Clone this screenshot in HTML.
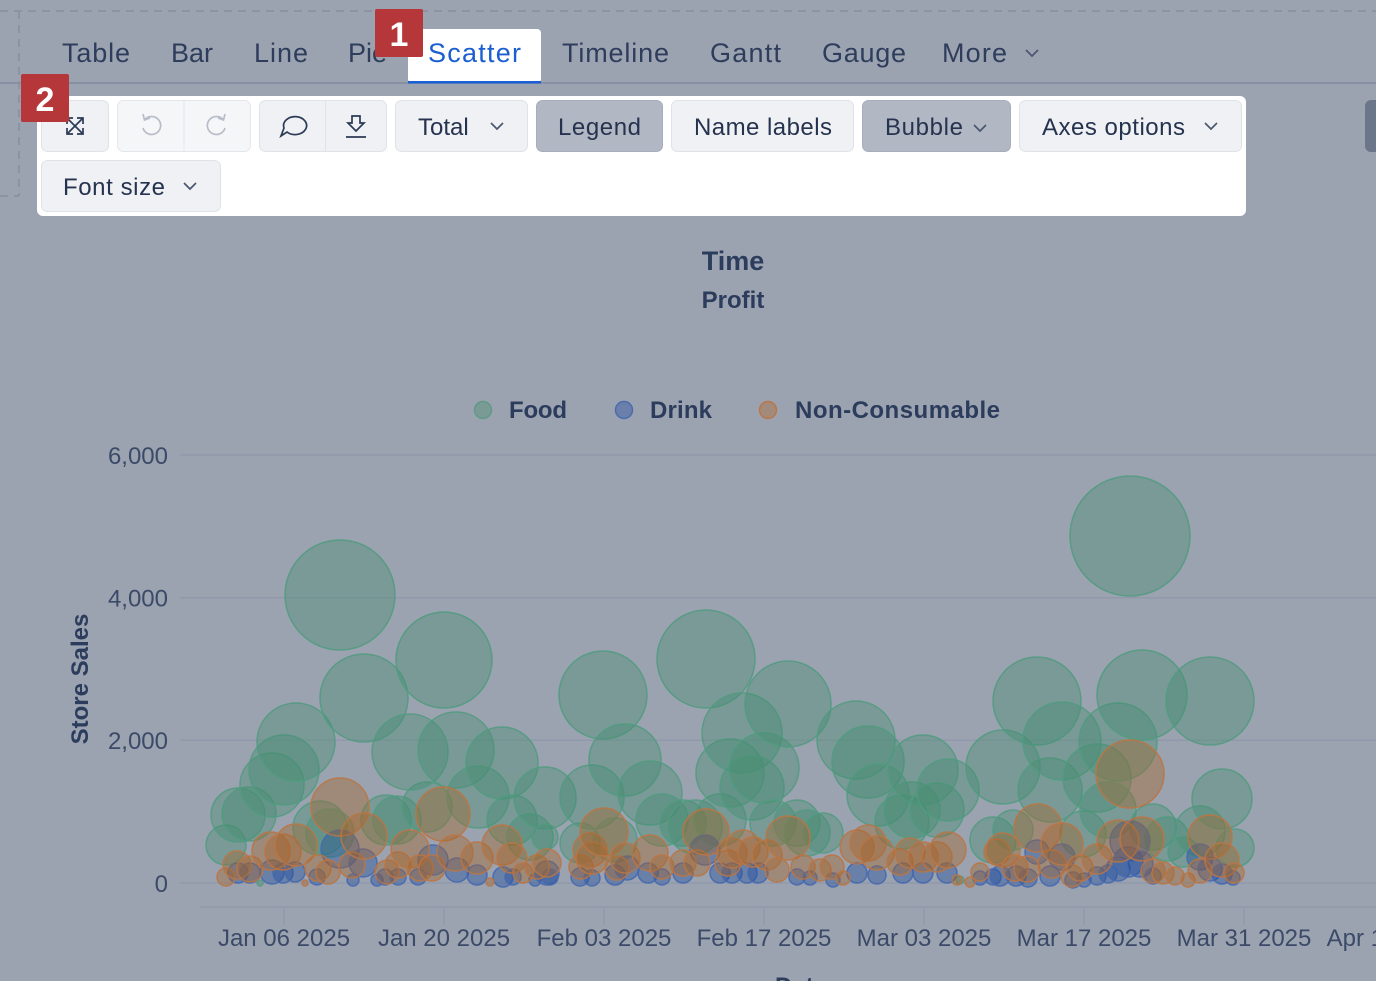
<!DOCTYPE html>
<html><head><meta charset="utf-8"><style>
html,body{margin:0;padding:0;background:#9ca3b0;}
svg{display:block;font-family:"Liberation Sans",Arial,sans-serif;}
.g circle{fill:rgba(71,140,112,0.4);stroke:rgba(80,155,128,0.85);stroke-width:1.5}
.b circle{fill:rgba(31,76,157,0.4);stroke:rgba(70,105,175,0.9);stroke-width:1.5}
.o circle{fill:rgba(166,100,42,0.4);stroke:rgba(185,118,70,0.9);stroke-width:1.5}
.tab{font-size:27px;fill:#2e3d5c}
.btn{font-size:24px;fill:#26334f}
.tick{font-size:24px;fill:#3b4a68}
.chev{fill:none;stroke:#4a5670;stroke-width:1.7}
</style></head><body>
<svg width="1376" height="981" viewBox="0 0 1376 981" xmlns="http://www.w3.org/2000/svg">
<rect width="1376" height="981" fill="#9ca3b0"/>
<line x1="0" y1="11" x2="1376" y2="11" stroke="#87909f" stroke-width="1.5" stroke-dasharray="8,6"/>
<line x1="19" y1="11" x2="19" y2="196" stroke="#87909f" stroke-width="1.5" stroke-dasharray="8,6"/>
<line x1="0" y1="196" x2="19" y2="196" stroke="#87909f" stroke-width="1.5" stroke-dasharray="8,6"/>

<line x1="0" y1="83" x2="1376" y2="83" stroke="#8891a3" stroke-width="2"/>
<text class="tab" x="62" y="62" textLength="68">Table</text>
<text class="tab" x="171" y="62" textLength="42">Bar</text>
<text class="tab" x="254" y="62" textLength="54">Line</text>
<text class="tab" x="348" y="62">Pie</text>
<rect x="408" y="29" width="133" height="54" rx="4" fill="#ffffff"/>
<rect x="408" y="81" width="133" height="2.5" fill="#1a5fd6"/>
<text class="tab" x="428" y="62" style="fill:#1a5ed0" textLength="93">Scatter</text>
<text class="tab" x="562" y="62" textLength="107">Timeline</text>
<text class="tab" x="710" y="62" textLength="71">Gantt</text>
<text class="tab" x="822" y="62" textLength="84">Gauge</text>
<text class="tab" x="942" y="62" textLength="65">More</text>
<polyline class="chev" points="1026,50 1032,56 1038,50"/>

<rect x="37" y="96" width="1209" height="120" rx="6" fill="#ffffff"/>
<rect x="41.5" y="100.5" width="67" height="51" rx="6" fill="#eff1f4" stroke="#dfe3e8"/>
<g fill="none" stroke="#2b3a55" stroke-width="1.7">
<line x1="67" y1="118" x2="83" y2="134"/><line x1="83" y1="118" x2="67" y2="134"/>
<polyline points="67,124 67,118 73,118"/><polyline points="77,118 83,118 83,124"/>
<polyline points="67,128 67,134 73,134"/><polyline points="77,134 83,134 83,128"/>
</g>
<rect x="117.5" y="100.5" width="133" height="51" rx="6" fill="#f5f6f8" stroke="#e3e6eb"/>
<line x1="184" y1="101" x2="184" y2="151" stroke="#e3e6eb"/>
<g fill="none" stroke="#b7bec9" stroke-width="1.7">
<path d="M144.5 120 A9 9 0 1 1 143 128"/><polyline points="143,114 144.5,120 150,118"/>
<path d="M223.5 120 A9 9 0 1 0 225 128"/><polyline points="225,114 223.5,120 218,118"/>
</g>
<rect x="259.5" y="100.5" width="127" height="51" rx="6" fill="#eff1f4" stroke="#dfe3e8"/>
<line x1="325.5" y1="101" x2="325.5" y2="151" stroke="#dfe3e8"/>
<g fill="none" stroke="#2b3a55" stroke-width="1.7">
<path d="M287 132 A11.5 9 0 1 0 284 128 L281 136 Z"/>
<path d="M352 116 h8 v7 h4 l-8 8 l-8 -8 h4 z"/>
<line x1="346" y1="137" x2="366" y2="137"/>
</g>
<rect x="395.5" y="100.5" width="132" height="51" rx="6" fill="#eff1f4" stroke="#dfe3e8"/>
<text class="btn" x="418" y="135">Total</text>
<polyline class="chev" points="491,123 497,129 503,123"/>
<rect x="536.5" y="100.5" width="126" height="51" rx="6" fill="#b1b7c3" stroke="#a7aebb"/>
<text class="btn" x="558" y="135" textLength="83">Legend</text>
<rect x="671.5" y="100.5" width="182" height="51" rx="6" fill="#eff1f4" stroke="#dfe3e8"/>
<text class="btn" x="694" y="135" textLength="138">Name labels</text>
<rect x="862.5" y="100.5" width="148" height="51" rx="6" fill="#b1b7c3" stroke="#a7aebb"/>
<text class="btn" x="885" y="135" textLength="78">Bubble</text>
<polyline class="chev" points="974,125 980,131 986,125"/>
<rect x="1019.5" y="100.5" width="222" height="51" rx="6" fill="#eff1f4" stroke="#dfe3e8"/>
<text class="btn" x="1042" y="135" textLength="143">Axes options</text>
<polyline class="chev" points="1205,123 1211,129 1217,123"/>
<rect x="41.5" y="160.5" width="179" height="51" rx="6" fill="#eff1f4" stroke="#dfe3e8"/>
<text class="btn" x="63" y="195" textLength="102">Font size</text>
<polyline class="chev" points="184,183 190,189 196,183"/>
<rect x="1365" y="100" width="30" height="52" rx="6" fill="#6c768a"/>

<rect x="375" y="9" width="48" height="48" rx="2" fill="#b5373a"/>
<text x="399" y="46" text-anchor="middle" font-size="34" font-weight="bold" fill="#ffffff">1</text>
<rect x="21" y="74" width="48" height="48" rx="2" fill="#b5373a"/>
<text x="45" y="111" text-anchor="middle" font-size="34" font-weight="bold" fill="#ffffff">2</text>

<text x="733" y="270" text-anchor="middle" font-size="27" font-weight="bold" fill="#2c3c5c">Time</text>
<text x="733" y="308" text-anchor="middle" font-size="24" font-weight="bold" fill="#2c3c5c">Profit</text>

<circle cx="483" cy="410" r="8.5" fill="#7a9a96" stroke="#5e9a86" stroke-width="1.5"/>
<text x="509" y="418" font-size="24" font-weight="bold" fill="#2c3c5c" textLength="58">Food</text>
<circle cx="624" cy="410" r="8.5" fill="#6a80aa" stroke="#4a6cae" stroke-width="1.5"/>
<text x="650" y="418" font-size="24" font-weight="bold" fill="#2c3c5c" textLength="62">Drink</text>
<circle cx="768" cy="410" r="8.5" fill="#a48a7a" stroke="#b9774a" stroke-width="1.5"/>
<text x="795" y="418" font-size="24" font-weight="bold" fill="#2c3c5c" textLength="205">Non-Consumable</text>

<g stroke="#8f99ab" stroke-width="1.5">
<line x1="180" y1="455" x2="1376" y2="455"/>
<line x1="180" y1="597.7" x2="1376" y2="597.7"/>
<line x1="180" y1="740.3" x2="1376" y2="740.3"/>
<line x1="180" y1="883" x2="1376" y2="883"/>
<line x1="200" y1="907" x2="1376" y2="907"/>
<line x1="284" y1="907" x2="284" y2="925"/>
<line x1="444" y1="907" x2="444" y2="925"/>
<line x1="604" y1="907" x2="604" y2="925"/>
<line x1="764" y1="907" x2="764" y2="925"/>
<line x1="924" y1="907" x2="924" y2="925"/>
<line x1="1084" y1="907" x2="1084" y2="925"/>
<line x1="1244" y1="907" x2="1244" y2="925"/>
</g>
<g text-anchor="end">
<text class="tick" x="168" y="464">6,000</text>
<text class="tick" x="168" y="606.5">4,000</text>
<text class="tick" x="168" y="749">2,000</text>
<text class="tick" x="168" y="892">0</text>
</g>
<g text-anchor="middle">
<text class="tick" x="284" y="946">Jan 06 2025</text>
<text class="tick" x="444" y="946">Jan 20 2025</text>
<text class="tick" x="604" y="946">Feb 03 2025</text>
<text class="tick" x="764" y="946">Feb 17 2025</text>
<text class="tick" x="924" y="946">Mar 03 2025</text>
<text class="tick" x="1084" y="946">Mar 17 2025</text>
<text class="tick" x="1244" y="946">Mar 31 2025</text>
<text class="tick" x="1392" y="946">Apr 14 2025</text>
</g>
<text x="88" y="679" transform="rotate(-90 88 679)" text-anchor="middle" font-size="24" font-weight="bold" fill="#2c3c5c">Store Sales</text>
<text x="801" y="994" text-anchor="middle" font-size="24" font-weight="bold" fill="#2c3c5c">Date</text>

<g class="g">
<circle cx="226" cy="845" r="20"/><circle cx="238" cy="815" r="27"/><circle cx="249" cy="814" r="27"/>
<circle cx="272" cy="785" r="32"/><circle cx="284" cy="770" r="35"/><circle cx="296" cy="742" r="39"/>
<circle cx="340" cy="595" r="55"/><circle cx="364" cy="698" r="44"/><circle cx="320" cy="828" r="27"/>
<circle cx="330" cy="833" r="24"/><circle cx="386" cy="820" r="25"/><circle cx="397" cy="820" r="24"/>
<circle cx="427" cy="807" r="25"/><circle cx="410" cy="752" r="38"/><circle cx="444" cy="660" r="48"/>
<circle cx="456" cy="750" r="38"/><circle cx="478" cy="797" r="31"/><circle cx="502" cy="763" r="36"/>
<circle cx="512" cy="820" r="25"/><circle cx="530" cy="837" r="23"/><circle cx="545" cy="798" r="31"/>
<circle cx="545" cy="837" r="13"/><circle cx="580" cy="843" r="20"/><circle cx="592" cy="797" r="32"/>
<circle cx="603" cy="695" r="44"/><circle cx="615" cy="840" r="22"/><circle cx="625" cy="760" r="36"/>
<circle cx="650" cy="793" r="32"/><circle cx="662" cy="820" r="26"/><circle cx="683" cy="823" r="23"/>
<circle cx="695" cy="827" r="27"/><circle cx="706" cy="659" r="49"/><circle cx="720" cy="820" r="26"/>
<circle cx="730" cy="773" r="34"/><circle cx="742" cy="733" r="40"/><circle cx="752" cy="788" r="32"/>
<circle cx="764" cy="768" r="35"/><circle cx="773" cy="823" r="23"/><circle cx="788" cy="704" r="43"/>
<circle cx="797" cy="823" r="23"/><circle cx="807" cy="833" r="23"/><circle cx="823" cy="833" r="20"/>
<circle cx="856" cy="740" r="39"/><circle cx="868" cy="762" r="36"/><circle cx="878" cy="795" r="31"/>
<circle cx="902" cy="822" r="27"/><circle cx="912" cy="810" r="28"/><circle cx="923" cy="770" r="35"/>
<circle cx="937" cy="810" r="27"/><circle cx="948" cy="790" r="31"/><circle cx="993" cy="840" r="23"/>
<circle cx="1003" cy="767" r="37"/><circle cx="1013" cy="830" r="20"/><circle cx="1037" cy="701" r="44"/>
<circle cx="1050" cy="790" r="32"/><circle cx="1062" cy="741" r="39"/><circle cx="1083" cy="834" r="23"/>
<circle cx="1097" cy="778" r="34"/><circle cx="1108" cy="810" r="28"/><circle cx="1118" cy="742" r="39"/>
<circle cx="1130" cy="536" r="60"/><circle cx="1142" cy="695" r="45"/><circle cx="1153" cy="827" r="23"/>
<circle cx="1167" cy="839" r="22"/><circle cx="1183" cy="852" r="15"/><circle cx="1200" cy="831" r="25"/>
<circle cx="1210" cy="701" r="44"/><circle cx="1222" cy="799" r="30"/><circle cx="1235" cy="848" r="19"/>
<circle cx="260" cy="883" r="3"/><circle cx="960" cy="880" r="4"/>
</g>
<g class="b">
<circle cx="238" cy="873" r="10"/><circle cx="250" cy="873" r="10"/><circle cx="272" cy="872" r="12"/>
<circle cx="283" cy="873" r="10"/><circle cx="295" cy="872" r="10"/><circle cx="317" cy="877" r="8"/>
<circle cx="340" cy="849" r="19"/><circle cx="353" cy="880" r="6"/><circle cx="363" cy="863" r="14"/>
<circle cx="377" cy="880" r="6"/><circle cx="385" cy="877" r="8"/><circle cx="398" cy="877" r="8"/>
<circle cx="418" cy="877" r="8"/><circle cx="433" cy="860" r="15"/><circle cx="457" cy="870" r="12"/>
<circle cx="477" cy="875" r="10"/><circle cx="503" cy="877" r="10"/><circle cx="513" cy="877" r="8"/>
<circle cx="535" cy="880" r="6"/><circle cx="547" cy="873" r="12"/><circle cx="550" cy="877" r="8"/>
<circle cx="580" cy="877" r="9"/><circle cx="592" cy="878" r="8"/><circle cx="615" cy="875" r="10"/>
<circle cx="627" cy="868" r="12"/><circle cx="648" cy="873" r="10"/><circle cx="662" cy="877" r="8"/>
<circle cx="683" cy="873" r="10"/><circle cx="705" cy="850" r="15"/><circle cx="720" cy="873" r="10"/>
<circle cx="732" cy="873" r="10"/><circle cx="747" cy="873" r="10"/><circle cx="758" cy="873" r="10"/>
<circle cx="797" cy="877" r="8"/><circle cx="810" cy="878" r="7"/><circle cx="833" cy="880" r="7"/>
<circle cx="857" cy="873" r="10"/><circle cx="877" cy="875" r="9"/><circle cx="903" cy="873" r="10"/>
<circle cx="923" cy="873" r="10"/><circle cx="947" cy="873" r="10"/><circle cx="980" cy="878" r="7"/>
<circle cx="993" cy="877" r="8"/><circle cx="1000" cy="876" r="10"/><circle cx="1016" cy="876" r="10"/>
<circle cx="1028" cy="878" r="9"/><circle cx="1037" cy="852" r="12"/><circle cx="1050" cy="876" r="10"/>
<circle cx="1062" cy="857" r="13"/><circle cx="1073" cy="880" r="8"/><circle cx="1084" cy="880" r="7"/>
<circle cx="1097" cy="876" r="9"/><circle cx="1108" cy="874" r="9"/><circle cx="1118" cy="869" r="12"/>
<circle cx="1128" cy="862" r="15"/><circle cx="1130" cy="841" r="20"/><circle cx="1140" cy="864" r="13"/>
<circle cx="1153" cy="876" r="8"/><circle cx="1200" cy="857" r="13"/><circle cx="1210" cy="869" r="12"/>
<circle cx="1222" cy="874" r="10"/><circle cx="1233" cy="878" r="7"/>
</g>
<g class="o">
<circle cx="226" cy="877" r="9"/><circle cx="237" cy="865" r="14"/><circle cx="250" cy="869" r="13"/>
<circle cx="271" cy="851" r="19"/><circle cx="283" cy="852" r="18"/><circle cx="296" cy="845" r="21"/>
<circle cx="305" cy="883" r="3"/><circle cx="318" cy="868" r="13"/><circle cx="328" cy="872" r="12"/>
<circle cx="340" cy="807" r="29"/><circle cx="352" cy="865" r="13"/><circle cx="364" cy="836" r="23"/>
<circle cx="387" cy="872" r="12"/><circle cx="398" cy="865" r="13"/><circle cx="410" cy="849" r="19"/>
<circle cx="420" cy="868" r="13"/><circle cx="432" cy="868" r="13"/><circle cx="443" cy="814" r="27"/>
<circle cx="455" cy="853" r="18"/><circle cx="477" cy="858" r="16"/><circle cx="490" cy="882" r="4"/>
<circle cx="502" cy="845" r="20"/><circle cx="512" cy="858" r="15"/><circle cx="523" cy="873" r="10"/>
<circle cx="537" cy="867" r="12"/><circle cx="547" cy="863" r="14"/><circle cx="581" cy="867" r="12"/>
<circle cx="590" cy="850" r="17"/><circle cx="592" cy="858" r="16"/><circle cx="604" cy="832" r="24"/>
<circle cx="617" cy="868" r="12"/><circle cx="625" cy="858" r="15"/><circle cx="650" cy="853" r="18"/>
<circle cx="662" cy="867" r="12"/><circle cx="683" cy="863" r="13"/><circle cx="697" cy="863" r="13"/>
<circle cx="706" cy="832" r="23"/><circle cx="728" cy="863" r="13"/><circle cx="732" cy="853" r="15"/>
<circle cx="743" cy="847" r="17"/><circle cx="753" cy="852" r="15"/><circle cx="767" cy="855" r="15"/>
<circle cx="777" cy="870" r="12"/><circle cx="788" cy="838" r="22"/><circle cx="803" cy="867" r="12"/>
<circle cx="820" cy="870" r="11"/><circle cx="832" cy="867" r="12"/><circle cx="843" cy="878" r="7"/>
<circle cx="857" cy="847" r="17"/><circle cx="868" cy="843" r="18"/><circle cx="877" cy="853" r="17"/>
<circle cx="900" cy="862" r="13"/><circle cx="910" cy="853" r="15"/><circle cx="923" cy="857" r="15"/>
<circle cx="937" cy="857" r="15"/><circle cx="948" cy="850" r="18"/><circle cx="957" cy="880" r="5"/>
<circle cx="970" cy="882" r="5"/><circle cx="980" cy="872" r="9"/><circle cx="997" cy="852" r="13"/>
<circle cx="1003" cy="850" r="17"/><circle cx="1015" cy="868" r="13"/><circle cx="1027" cy="869" r="13"/>
<circle cx="1038" cy="828" r="24"/><circle cx="1052" cy="864" r="14"/><circle cx="1062" cy="844" r="21"/>
<circle cx="1072" cy="876" r="11"/><circle cx="1080" cy="868" r="13"/><circle cx="1097" cy="859" r="15"/>
<circle cx="1118" cy="841" r="21"/><circle cx="1130" cy="774" r="34"/><circle cx="1142" cy="839" r="22"/>
<circle cx="1153" cy="871" r="12"/><circle cx="1163" cy="873" r="11"/><circle cx="1175" cy="876" r="9"/>
<circle cx="1188" cy="880" r="7"/><circle cx="1200" cy="871" r="12"/><circle cx="1210" cy="837" r="22"/>
<circle cx="1222" cy="860" r="17"/><circle cx="1234" cy="873" r="10"/>
</g>
</svg>
</body></html>
